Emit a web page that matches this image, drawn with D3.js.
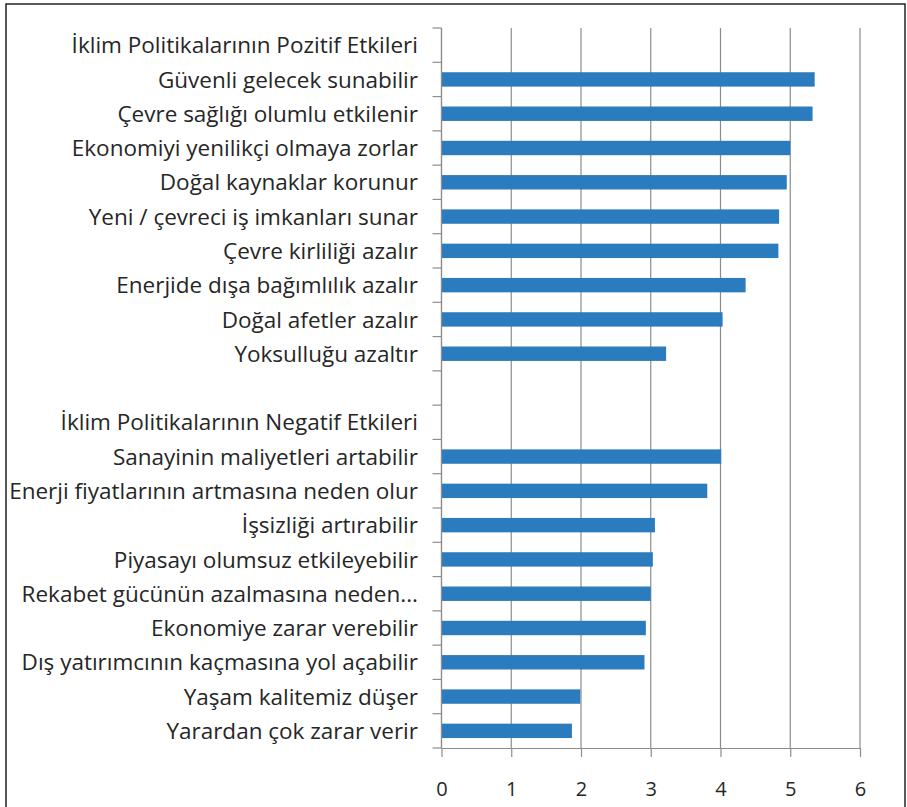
<!DOCTYPE html>
<html>
<head>
<meta charset="utf-8">
<script src="https://cdn.jsdelivr.net/npm/d3@7"></script>
<style>
  body { margin: 0; background: #fff; }
  text { font-family: "Open Sans", sans-serif; fill: #262626; }
</style>
</head>
<body>
<script>
// rows from top to bottom; headers and the blank row carry no value
const categories = [
  'İklim Politikalarının Pozitif Etkileri',
  'Güvenli gelecek sunabilir',
  'Çevre sağlığı olumlu etkilenir',
  'Ekonomiyi yenilikçi olmaya zorlar',
  'Doğal kaynaklar korunur',
  'Yeni / çevreci iş imkanları sunar',
  'Çevre kirliliği azalır',
  'Enerjide dışa bağımlılık azalır',
  'Doğal afetler azalır',
  'Yoksulluğu azaltır',
  '',
  'İklim Politikalarının Negatif Etkileri',
  'Sanayinin maliyetleri artabilir',
  'Enerji fiyatlarının artmasına neden olur',
  'İşsizliği artırabilir',
  'Piyasayı olumsuz etkileyebilir',
  'Rekabet gücünün azalmasına neden...',
  'Ekonomiye zarar verebilir',
  'Dış yatırımcının kaçmasına yol açabilir',
  'Yaşam kalitemiz düşer',
  'Yarardan çok zarar verir'
];
const values = [
  null, 5.35, 5.32, 5.00, 4.95, 4.84, 4.83, 4.36, 4.03, 3.22,
  null,
  null, 4.01, 3.81, 3.06, 3.03, 3.00, 2.93, 2.91, 1.99, 1.87
];
const xTicks = [0, 1, 2, 3, 4, 5, 6];

const W = 907, H = 807;
const plotLeft = 441.5, plotRight = 860, plotTop = 28, plotBottom = 748;

const svg = d3.select('body').append('svg')
  .attr('width', W)
  .attr('height', H);

// outer frame
svg.append('rect')
  .attr('x', 6).attr('y', 4)
  .attr('width', 899).attr('height', 820)
  .attr('fill', 'none')
  .attr('stroke', '#222')
  .attr('stroke-width', 1.5);

const rows = categories.map((c, i) => ({ key: i, label: c, value: values[i] }));

const x = d3.scaleLinear().domain([0, 6]).range([plotLeft, plotRight]);
const y = d3.scaleBand()
  .domain(rows.map(d => d.key))
  .range([plotTop, plotBottom])
  .paddingInner(0.58)
  .paddingOuter(0.29);

// step boundaries for y ticks
const step = (plotBottom - plotTop) / rows.length;

// gridlines
svg.append('g').selectAll('line')
  .data(xTicks)
  .enter().append('line')
  .attr('x1', d => x(d)).attr('x2', d => x(d))
  .attr('y1', plotTop).attr('y2', plotBottom)
  .attr('stroke', '#8c8c8c')
  .attr('stroke-width', 1.2);

// bars
svg.append('g').selectAll('rect')
  .data(rows.filter(d => d.value != null))
  .enter().append('rect')
  .attr('x', x(0))
  .attr('y', d => y(d.key))
  .attr('width', d => x(d.value) - x(0))
  .attr('height', y.bandwidth())
  .attr('fill', '#2b7bbf');

// y axis line and ticks
svg.append('line')
  .attr('x1', plotLeft).attr('x2', plotLeft)
  .attr('y1', plotTop).attr('y2', plotBottom)
  .attr('stroke', '#8c8c8c').attr('stroke-width', 1.2);
svg.append('g').selectAll('line')
  .data(d3.range(rows.length + 1))
  .enter().append('line')
  .attr('x1', plotLeft - 9).attr('x2', plotLeft)
  .attr('y1', i => plotTop + i * step).attr('y2', i => plotTop + i * step)
  .attr('stroke', '#8c8c8c').attr('stroke-width', 1.2);

// category labels
svg.append('g').selectAll('text')
  .data(rows)
  .enter().append('text')
  .attr('x', 418)
  .attr('y', d => y(d.key) + y.bandwidth() / 2)
  .attr('dy', '0.36em')
  .attr('text-anchor', 'end')
  .style('font-size', '22.5px')
  .text(d => d.label);

// x axis
const xAxis = svg.append('g')
  .attr('transform', `translate(0,${plotBottom})`)
  .call(d3.axisBottom(x).tickValues(xTicks).tickFormat(d3.format('d'))
    .tickSize(9).tickPadding(25).tickSizeOuter(0));
xAxis.select('.domain').attr('stroke', '#8c8c8c').attr('stroke-width', 1.2);
xAxis.selectAll('.tick line').attr('stroke', '#8c8c8c').attr('stroke-width', 1.2);
xAxis.selectAll('.tick text')
  .style('font-family', '"Open Sans", sans-serif')
  .style('font-size', '20px')
  .attr('fill', '#333');
</script>
</body>
</html>
